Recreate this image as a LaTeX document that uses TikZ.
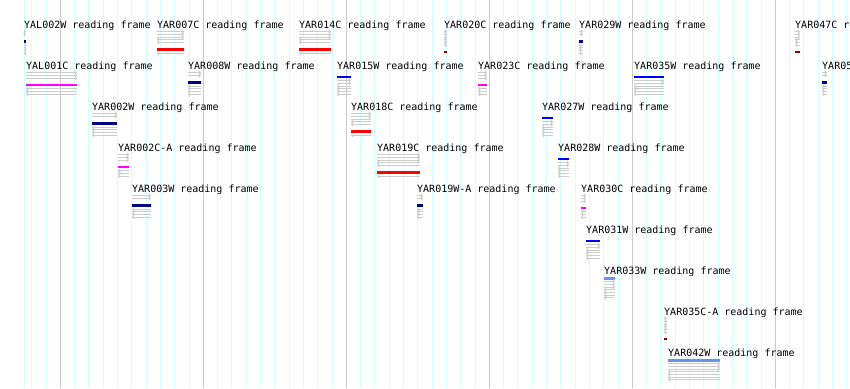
\documentclass[tikz,border=0pt]{standalone}
\usepackage{fontspec}
\newfontfamily\lblfont{DejaVu Sans Mono}
\usetikzlibrary{arrows.meta}

\definecolor{gridcyan}{HTML}{D2FFFF}
\definecolor{gridgrey}{HTML}{CCCCCC}
\definecolor{framegrey}{HTML}{CCCCCC}
\definecolor{fnavy}{HTML}{000080}
\definecolor{fblue}{HTML}{0000FF}
\definecolor{fcorn}{HTML}{6495ED}
\definecolor{fmag}{HTML}{FF00FF}
\definecolor{fred}{HTML}{FF0000}
\definecolor{fdark}{HTML}{8B0000}

\tikzset{
  lbl/.style={anchor=base west, inner sep=0pt, font=\lblfont\fontsize{10}{12}\selectfont},
  fwd/.style={framegrey, line width=0.8pt, -{Straight Barb[length=1.6pt,width=4pt]}},
  rev/.style={framegrey, line width=0.8pt, {Straight Barb[length=1.6pt,width=4pt]}-},
  orfbar/.style={draw=#1, line width=2.7pt},
}

% name, text, x start, x end, row centre, colour, slot of the bar
\newcommand\orf[7]{%
  \node[lbl] (#1) at (#3,#5+4.4) {#2};
  \pgfmathsetmacro\ytop{#5+6.3}
  \ifnum#7<0
    % bar above all six frames
    \pgfmathsetmacro\ybar{\ytop+2}
    \draw[orfbar=#6] (#3,\ybar) -- (#4,\ybar);
    \foreach \i in {0,...,6}{
      \pgfmathsetmacro\yy{\ytop+5.3+2.67*\i}
      \ifnum\i<3 \draw[fwd] (#3,\yy) -- (#4,\yy); \else \draw[rev] (#3,\yy) -- (#4,\yy); \fi
    }
  \else
    \pgfmathsetmacro\ybar{\ytop+2.67*#7+5.7}
    \draw[orfbar=#6] (#3,\ybar) -- (#4,\ybar);
    \foreach \i in {0,...,6}{
      \pgfmathsetmacro\yy{\ytop+1.33+2.67*\i+5.33*(\i>#7)}
      \ifnum\i=#7\relax\else
        \ifnum\i<3 \draw[fwd] (#3,\yy) -- (#4,\yy); \else \draw[rev] (#3,\yy) -- (#4,\yy); \fi
      \fi
    }
  \fi
}

\begin{document}
\begin{tikzpicture}[x=1pt,y=-1pt]
  \useasboundingbox (0,0) rectangle (850,388);
  \fill[white] (0,0) rectangle (850,388);
  \clip (0,0) rectangle (850,388);

  % grid
  \draw[gridcyan, line width=1pt] (24.3,0) -- (24.3,388);
  \foreach \k in {-2,...,55}
    \draw[gridcyan, line width=1pt] (60.3+14.3*\k,0) -- (60.3+14.3*\k,388);
  \foreach \k in {0,...,5}
    \draw[gridgrey, line width=1pt] (60.3+143*\k,0) -- (60.3+143*\k,388);

  % row centres
  \def\ra{24}   \def\rb{65}   \def\rc{106}
  \def\rd{147}  \def\re{188}  \def\rf{229}
  \def\rg{270}  \def\rh{311}  \def\ri{352}

  % first row
  \orf{yal002w}{YAL002W reading frame}{24}{26}{\ra}{fnavy}{2}
  \orf{yar007c}{YAR007C reading frame}{157}{184}{\ra}{fred}{5}
  \orf{yar014c}{YAR014C reading frame}{299}{331}{\ra}{fred}{5}
  \orf{yar020c}{YAR020C reading frame}{444}{447}{\ra}{fdark}{6}
  \orf{yar029w}{YAR029W reading frame}{579}{583}{\ra}{fnavy}{2}
  \orf{yar047c}{YAR047C reading frame}{795}{800}{\ra}{fdark}{6}

  % second row
  \orf{yal001c}{YAL001C reading frame}{26}{77}{\rb}{fmag}{3}
  \orf{yar008w}{YAR008W reading frame}{188}{201}{\rb}{fnavy}{2}
  \orf{yar015w}{YAR015W reading frame}{337}{351}{\rb}{fblue}{0}
  \orf{yar023c}{YAR023C reading frame}{478}{487}{\rb}{fmag}{3}
  \orf{yar035w}{YAR035W reading frame}{634}{664}{\rb}{fblue}{0}
  \orf{yar05}{YAR05}{822}{827}{\rb}{fnavy}{2}

  % third row
  \orf{yar002w}{YAR002W reading frame}{92}{117}{\rc}{fnavy}{2}
  \orf{yar018c}{YAR018C reading frame}{351}{371}{\rc}{fred}{5}
  \orf{yar027w}{YAR027W reading frame}{542}{553}{\rc}{fblue}{0}

  % fourth row
  \orf{yar002ca}{YAR002C-A reading frame}{118}{129}{\rd}{fmag}{3}
  \orf{yar019c}{YAR019C reading frame}{377}{420}{\rd}{fred}{5}
  \orf{yar028w}{YAR028W reading frame}{558}{569}{\rd}{fblue}{0}

  % fifth row
  \orf{yar003w}{YAR003W reading frame}{132}{151}{\re}{fnavy}{2}
  \orf{yar019wa}{YAR019W-A reading frame}{417}{423}{\re}{fnavy}{2}
  \orf{yar030c}{YAR030C reading frame}{581}{586}{\re}{fmag}{3}

  % lower rows
  \orf{yar031w}{YAR031W reading frame}{586}{600}{\rf}{fblue}{0}
  \orf{yar033w}{YAR033W reading frame}{604}{615}{\rg}{fcorn}{-1}
  \orf{yar035ca}{YAR035C-A reading frame}{664}{667}{\rh}{fdark}{6}
  \orf{yar042w}{YAR042W reading frame}{668}{720}{\ri}{fcorn}{-1}
\end{tikzpicture}
\end{document}
